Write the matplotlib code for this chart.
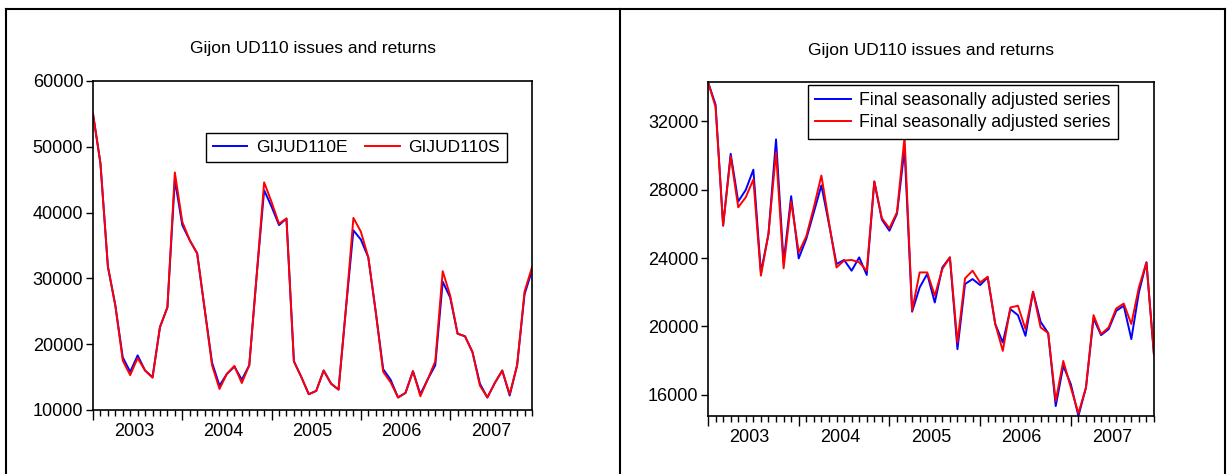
import numpy as np
from matplotlib import pyplot as plt
from matplotlib.ticker import FixedLocator

plt.rcParams['font.family'] = ['Liberation Sans', 'DejaVu Sans']

# =====================================================================
# DONNÉES (mensuelles, 2003M01 - 2007M12)
# =====================================================================

annees = [2003, 2004, 2005, 2006, 2007]

gijud110e = [55000, 47500, 31800, 25900, 18000, 15800, 18300, 16000, 15000, 22600,
             25600, 45000, 38100, 35800, 33800, 25400, 17200, 13700, 15500, 16600,
             14600, 16800, 30500, 43400, 40900, 38100, 39100, 17400, 15000, 12400,
             12900, 16000, 14000, 13100, 25500, 37300, 35900, 33200, 24900, 16200,
             14600, 11900, 12600, 15900, 12400, 14700, 16800, 29500, 27100, 21600,
             21200, 18800, 14000, 11900, 14100, 16000, 12200, 16800, 27600, 31200]

gijud110s = [55000, 47500, 31800, 25900, 17500, 15300, 17900, 16000, 14900, 22600,
             25600, 46100, 38600, 35800, 33800, 25400, 16800, 13200, 15500, 16700,
             14100, 16800, 30500, 44600, 41600, 38300, 39100, 17400, 15000, 12400,
             12900, 16000, 14000, 13100, 25500, 39200, 37100, 33200, 24900, 15800,
             14200, 11900, 12600, 15900, 12100, 14700, 17400, 31100, 27400, 21600,
             21200, 18800, 13700, 11900, 14100, 16000, 12400, 16800, 28000, 31700]

sa_e = [34300, 32980, 25900, 30100, 27310, 27990, 29170, 23160, 25410, 30940,
        23750, 27620, 23980, 25120, 26680, 28250, 26000, 23650, 23890, 23260,
        24040, 23010, 28480, 26250, 25600, 26590, 30400, 20860, 22280, 23070,
        21400, 23450, 24040, 18670, 22480, 22770, 22420, 22870, 20140, 19060,
        21010, 20660, 19450, 22030, 20270, 19610, 15340, 17690, 16620, 14760,
        16420, 20470, 19490, 19840, 20910, 21210, 19260, 21990, 23750, 18320]

sa_s = [34300, 32840, 25900, 29950, 26970, 27560, 28600, 22970, 25410, 30200,
        23400, 27310, 24330, 25270, 26970, 28830, 26100, 23450, 23850, 23890,
        23750, 23260, 28480, 26330, 25740, 26680, 31080, 20920, 23160, 23160,
        21800, 23360, 24040, 19060, 22810, 23260, 22570, 22910, 20140, 18570,
        21110, 21210, 19840, 22030, 19940, 19610, 15640, 17980, 16420, 14920,
        16420, 20660, 19550, 19940, 21050, 21340, 20140, 22280, 23750, 18320]

titre = "Gijon UD110 issues and returns"
label_sa = "Final seasonally adjusted series"

# =====================================================================
# FIGURE
# =====================================================================

W, H = 1231, 474
fig = plt.figure(figsize=(W / 100, H / 100), dpi=100)


def px_axes(x0, x1, y0, y1):
    return fig.add_axes([x0 / W, 1 - y1 / H, (x1 - x0) / W, (y1 - y0) / H])


def style_eviews(ax, n):
    x = np.arange(n)
    ax.set_xlim(0, n - 1)
    ax.xaxis.set_major_locator(FixedLocator(list(range(0, n, 12))))
    ax.xaxis.set_minor_locator(FixedLocator(list(range(n))))
    ax.tick_params(axis='x', which='major', length=7, width=1, labelbottom=False)
    ax.tick_params(axis='x', which='minor', length=4, width=1)
    ax.tick_params(axis='y', length=5, width=1, labelsize=13, pad=2)
    for k, an in enumerate(annees):
        ax.text(12 * k + 5.5, -0.04, str(an), transform=ax.get_xaxis_transform(),
                ha='center', va='top', fontsize=13)
    for s in ax.spines.values():
        s.set_linewidth(1.2)
    return x


# --- Panneau gauche ---
ax1 = px_axes(93, 532, 81, 410)
x = style_eviews(ax1, len(gijud110e))
ax1.plot(x, gijud110e, color='#0000FF', lw=1.4, label='GIJUD110E')
ax1.plot(x, gijud110s, color='#FF0000', lw=1.4, label='GIJUD110S')
ax1.set_ylim(10000, 60000)
ax1.set_yticks([10000, 20000, 30000, 40000, 50000, 60000])
ax1.legend(loc='upper left', bbox_to_anchor=(0.257, 0.842), borderaxespad=0, ncol=2,
           fontsize=12.5, frameon=True, fancybox=False, edgecolor='black', framealpha=1,
           handlelength=2.0, columnspacing=1.0, borderpad=0.4, handletextpad=0.5)
fig.text((93 + 532) / 2 / W, 1 - 49 / H, titre, ha='center', va='center', fontsize=12.5)

# --- Panneau droit ---
ax2 = px_axes(708, 1154, 82, 416)
x = style_eviews(ax2, len(sa_e))
ax2.plot(x, sa_e, color='#0000FF', lw=1.4, label=label_sa)
ax2.plot(x, sa_s, color='#FF0000', lw=1.4, label=label_sa)
ax2.set_ylim(min(min(sa_e), min(sa_s)), max(max(sa_e), max(sa_s)))
ax2.set_yticks([16000, 20000, 24000, 28000, 32000])
ax2.legend(loc='upper left', bbox_to_anchor=(0.224, 0.991), borderaxespad=0, ncol=1,
           fontsize=12.8, frameon=True, fancybox=False, edgecolor='black', framealpha=1,
           handlelength=2.0, borderpad=0.4, handletextpad=0.5, labelspacing=0.3)
fig.text((708 + 1154) / 2 / W, 1 - 50 / H, titre, ha='center', va='center', fontsize=12.5)

# --- Cadre de type tableau ---
for xl in [6, 620, 1225]:
    fig.add_artist(plt.Line2D([xl / W, xl / W], [0, 1 - 9 / H], color='black', lw=1.5))
fig.add_artist(plt.Line2D([6 / W, 1225 / W], [1 - 9 / H, 1 - 9 / H], color='black', lw=1.5))

plt.savefig('out.png', dpi=100)
plt.close()
